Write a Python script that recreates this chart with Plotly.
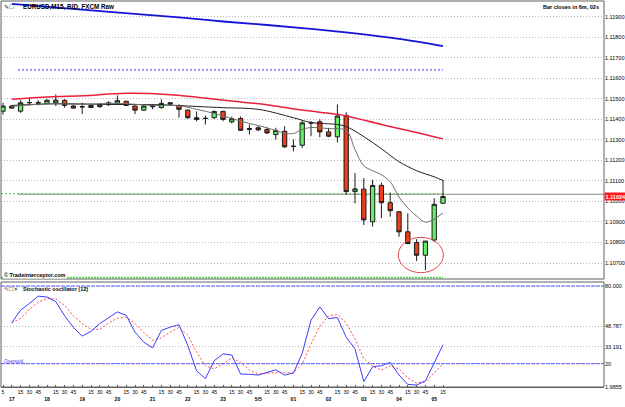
import plotly.graph_objects as go

# ---------------- data ----------------
bars = list(range(51))  # 15-minute bars, 16:45 .. 05:15
opens = [1.11440, 1.11465, 1.11440, 1.11481, 1.11482, 1.11478, 1.11481, 1.11493, 1.11465, 1.11462,
         1.11458, 1.11462, 1.11472, 1.11478, 1.11488, 1.11465, 1.11445, 1.11468, 1.11458, 1.11481,
         1.11468, 1.11445, 1.11408, 1.11404, 1.11408, 1.11439, 1.11388, 1.11404, 1.11351, 1.11359,
         1.11351, 1.11326, 1.11342, 1.11268, 1.11274, 1.11383, 1.11388, 1.11339, 1.11315, 1.11419,
         1.11048, 1.11060, 1.10901, 1.11078, 1.10994, 1.10950, 1.10852, 1.10800, 1.10738, 1.10812,
         1.10991]
highs = [1.11481, 1.11468, 1.11494, 1.11501, 1.11494, 1.11498, 1.11522, 1.11498, 1.11472, 1.11481,
         1.11472, 1.11478, 1.11488, 1.11517, 1.11491, 1.11468, 1.11472, 1.11472, 1.11498, 1.11484,
         1.11473, 1.11449, 1.11439, 1.11419, 1.11442, 1.11442, 1.11414, 1.11414, 1.11375, 1.11367,
         1.11359, 1.11359, 1.11367, 1.11302, 1.11395, 1.11391, 1.11400, 1.11359, 1.11473, 1.11435,
         1.11138, 1.11114, 1.11106, 1.11092, 1.11043, 1.10952, 1.10942, 1.10816, 1.10807, 1.11016,
         1.11106]
lows = [1.11424, 1.11452, 1.11432, 1.11468, 1.11468, 1.11473, 1.11465, 1.11457, 1.11452, 1.11426,
        1.11455, 1.11457, 1.11465, 1.11473, 1.11465, 1.11426, 1.11442, 1.11449, 1.11452, 1.11472,
        1.11408, 1.11403, 1.11391, 1.11375, 1.11403, 1.11391, 1.11380, 1.11344, 1.11326, 1.11342,
        1.11329, 1.11302, 1.11261, 1.11244, 1.11261, 1.11318, 1.11313, 1.11313, 1.11288, 1.11032,
        1.10991, 1.10885, 1.10877, 1.10918, 1.10926, 1.10828, 1.10792, 1.10710, 1.10665, 1.10803,
        1.10991]
closes = [1.11465, 1.11455, 1.11481, 1.11482, 1.11480, 1.11493, 1.11494, 1.11468, 1.11455, 1.11461,
          1.11468, 1.11473, 1.11481, 1.11491, 1.11468, 1.11445, 1.11465, 1.11462, 1.11478, 1.11475,
          1.11449, 1.11408, 1.11400, 1.11405, 1.11439, 1.11400, 1.11403, 1.11347, 1.11355, 1.11349,
          1.11334, 1.11346, 1.11266, 1.11269, 1.11383, 1.11383, 1.11339, 1.11318, 1.11416, 1.11048,
          1.11061, 1.10910, 1.11078, 1.10994, 1.10955, 1.10852, 1.10795, 1.10738, 1.10807, 1.10986,
          1.11024]

# moving averages (read at sample bars)
blue_ma_x = [1, 10, 20, 25, 30, 35, 40, 45, 50]
blue_ma_y = [1.11963, 1.11931, 1.11897, 1.11877, 1.11860, 1.11841, 1.11819, 1.11792, 1.11757]
red_ma_x = [1, 4, 9, 14, 19, 26, 30, 33, 36, 39, 43, 47, 50]
red_ma_y = [1.11498, 1.11507, 1.11515, 1.11527, 1.11520, 1.11489, 1.11471, 1.11451, 1.11435,
            1.11417, 1.11375, 1.11336, 1.11305]
black_ma_x = [1, 6, 12, 18, 22, 25, 29, 33, 35, 38, 39, 41, 43, 45, 47, 49, 50]
black_ma_y = [1.11468, 1.11476, 1.11473, 1.11471, 1.11463, 1.11457, 1.11449, 1.11408, 1.11385,
              1.11375, 1.11365, 1.11316, 1.11257, 1.11194, 1.11150, 1.11120, 1.11102]
gray_ma_x = [1, 5, 9, 13, 17, 20, 22, 24, 26, 28, 30, 32, 33, 34, 35, 37, 39, 40, 41, 42, 43, 44,
             45, 46, 47, 48, 49, 50]
gray_ma_y = [1.11463, 1.11476, 1.11473, 1.11478, 1.11468, 1.11466, 1.11449, 1.11429, 1.11404,
             1.11380, 1.11359, 1.11333, 1.11331, 1.11351, 1.11360, 1.11355, 1.11346, 1.11253,
             1.11174, 1.11150, 1.11130, 1.11096, 1.11022, 1.10968, 1.10929, 1.10899, 1.10914,
             1.10944]

# horizontal levels
blue_level = 1.11641
bid_line = 1.11035
green_level_hi = 1.11038
green_level_lo = 1.10630
last_price = 1.11024

# stochastic oscillator (bars 1..50)
stoch_x = list(range(1, 51))
stoch_k = [51.7, 61.3, 66.5, 72.2, 71.5, 68, 57, 48, 41.3, 45, 51, 55.5, 60, 57.4, 44.4, 36.6,
           32.2, 45.7, 48.3, 50.1, 34, 14.5, 8.5, 22.3, 27.5, 26.7, 12, 11.8, 11.2, 13.2, 15.3,
           11.2, 12.7, 28, 53.5, 63.9, 54.8, 55.6, 40.5, 31.4, 6.2, 17.6, 18.4, 21, 11.2, 4,
           3.5, 6.7, 21, 34.6]
stoch_d = [51.7, 55, 62, 67.5, 70.4, 69.9, 65, 57, 51, 46.5, 46.5, 51.5, 55, 56, 51, 44, 38, 40,
           44.4, 48, 42, 29, 18.4, 16, 19.8, 24.5, 21, 15, 12, 12.7, 13.2, 13, 13, 19.5, 35, 49,
           57, 57.9, 51.5, 39.2, 24, 18, 15, 18.4, 15.9, 9, 5, 6, 13, 19.8]
stoch_levels = [80, 20]
stoch_ticks = [1.9855, 20, 33.191, 48.787, 80]
stoch_tick_text = ["1.9855", "20", "33.191", "48.787", "80.000"]

price_ticks = [1.107, 1.108, 1.109, 1.110, 1.111, 1.112, 1.113, 1.114, 1.115, 1.116, 1.117,
               1.118, 1.119]
hour_labels = ["17", "18", "19", "20", "21", "22", "23", "5/5", "01", "02", "03", "04", "05"]
minute_labels = ["15", "30", "45"]

# circled area (bars / prices)
circle_x = [44.92, 50.04]
circle_y = [1.10653, 1.10825]

# ---------------- layout helpers ----------------
W, H = 625, 407
L, R, T, B = 1, 21, 1, 20


def px_x(px):
    return (px - L) / (W - L - R)


def px_y(py):
    return (H - B - py) / (H - T - B)


FONT = "Liberation Sans"
GREEN = "#66ee66"
RED = "#f03c18"
GRID = "#b8b8b8"
GRID_DASH = "1px,2px"

tick_vals = []
tick_text = []
for i in bars:
    tick_vals.append(i)
    if i == 0:
        tick_text.append("5")
    else:
        k = (i - 1) % 4
        if k == 0:
            tick_text.append("<br><b>" + hour_labels[(i - 1) // 4] + "</b>")
        else:
            tick_text.append(minute_labels[k - 1])

fig = go.Figure()

fig.add_trace(go.Candlestick(
    x=bars, open=opens, high=highs, low=lows, close=closes,
    increasing=dict(fillcolor=GREEN, line=dict(color="#1a1a1a", width=1)),
    decreasing=dict(fillcolor=RED, line=dict(color="#1a1a1a", width=1)),
    whiskerwidth=0, xaxis="x", yaxis="y", showlegend=False, hoverinfo="skip"))

fig.add_trace(go.Scatter(x=blue_ma_x, y=blue_ma_y, mode="lines", line=dict(color="#1414d8", width=1.8, shape="spline"),
                         yaxis="y", showlegend=False, hoverinfo="skip"))
fig.add_trace(go.Scatter(x=red_ma_x, y=red_ma_y, mode="lines", line=dict(color="#e8203c", width=1.5, shape="spline"),
                         yaxis="y", showlegend=False, hoverinfo="skip"))
fig.add_trace(go.Scatter(x=black_ma_x, y=black_ma_y, mode="lines", line=dict(color="#202020", width=1, shape="spline"),
                         yaxis="y", showlegend=False, hoverinfo="skip"))
fig.add_trace(go.Scatter(x=gray_ma_x, y=gray_ma_y, mode="lines", line=dict(color="#707070", width=1, shape="spline"),
                         yaxis="y", showlegend=False, hoverinfo="skip"))

fig.add_trace(go.Scatter(x=stoch_x, y=stoch_d, mode="lines", line=dict(color="#ff4c4c", width=1, dash="2px,2px"),
                         yaxis="y2", showlegend=False, hoverinfo="skip"))
fig.add_trace(go.Scatter(x=stoch_x, y=stoch_k, mode="lines", line=dict(color="#3c3cff", width=1),
                         yaxis="y2", showlegend=False, hoverinfo="skip"))

x_range = [-0.2273, 68.295]

shapes = [
    # panel frames
    dict(type="rect", xref="paper", yref="y domain", x0=0, x1=1, y0=0, y1=1,
         line=dict(color="#606060", width=1)),
    dict(type="rect", xref="paper", yref="y2 domain", x0=0, x1=1, y0=0, y1=1,
         line=dict(color="#606060", width=1)),
    # level lines
    dict(type="line", xref="x", yref="y", x0=1.7, x1=50, y0=blue_level, y1=blue_level,
         line=dict(color="#3030ff", width=1, dash="2px,2px"), layer="below"),
    dict(type="line", xref="x", yref="y", x0=1.7, x1=x_range[1], y0=bid_line, y1=bid_line,
         line=dict(color="#8a8a8a", width=1), layer="below"),
    dict(type="line", xref="x", yref="y", x0=x_range[0], x1=50, y0=green_level_hi, y1=green_level_hi,
         line=dict(color="#44cc44", width=1, dash="2px,2px"), layer="below"),
    dict(type="line", xref="x", yref="y", x0=x_range[0], x1=50, y0=green_level_lo, y1=green_level_lo,
         line=dict(color="#44dd44", width=1.5, dash="2px,1px"), layer="below"),
    # circle
    dict(type="circle", xref="x", yref="y", x0=circle_x[0], x1=circle_x[1], y0=circle_y[0], y1=circle_y[1],
         line=dict(color="#e04848", width=1)),
]
for lv in stoch_levels:
    shapes.append(dict(type="line", xref="paper", yref="y2", x0=0, x1=1, y0=lv, y1=lv,
                       line=dict(color="#5a5aff", width=1, dash="4px,1px")))

annotations = [
    dict(text="✎☐", x=px_x(2), y=px_y(6), xref="paper", yref="paper", xanchor="left", yanchor="middle",
         showarrow=False, font=dict(size=6, color="#333", family="DejaVu Sans")),
    dict(text="<b>EURUSD,M15, BID, FXCM Raw</b>", x=px_x(21), y=px_y(6.5), xref="paper", yref="paper",
         xanchor="left", yanchor="middle", showarrow=False, font=dict(size=6.3, color="#000")),
    dict(text="<b>Bar closes in 6m, 02s</b>", x=px_x(601), y=px_y(6.5), xref="paper", yref="paper",
         xanchor="right", yanchor="middle", showarrow=False, font=dict(size=5.5, color="#000")),
    dict(text="<b>© Tradeinterceptor.com</b>", x=px_x(3), y=px_y(275), xref="paper", yref="paper",
         xanchor="left", yanchor="middle", showarrow=False, bgcolor="#ffffff", borderpad=0,
         font=dict(size=5.5, color="#000")),
    dict(text="✎☐✕", x=px_x(2), y=px_y(288.5), xref="paper", yref="paper", xanchor="left", yanchor="middle",
         showarrow=False, font=dict(size=5.5, color="#333", family="DejaVu Sans")),
    dict(text="<b>Stochastic oscillator (12)</b>", x=px_x(21), y=px_y(288.5), xref="paper", yref="paper",
         xanchor="left", yanchor="middle", showarrow=False, font=dict(size=5.5, color="#000")),
    dict(text="Oversold", x=px_x(2), y=px_y(361), xref="paper", yref="paper", xanchor="left",
         yanchor="middle", showarrow=False, font=dict(size=4.8, color="#3c3cff")),
    dict(text="<b>" + f"{last_price:.5f}" + "</b>", x=1, y=last_price, xref="paper", yref="y",
         xanchor="left", yanchor="middle", showarrow=False, bgcolor="#ff1a1a", borderpad=0.5,
         font=dict(size=5.5, color="#ffffff")),
]

fig.update_layout(
    width=W, height=H, autosize=False,
    margin=dict(l=L, r=R, t=T, b=B, pad=0),
    paper_bgcolor="#ffffff", plot_bgcolor="#ffffff",
    font=dict(family=FONT, size=5.5, color="#000"),
    showlegend=False,
    xaxis=dict(range=x_range, anchor="y2", domain=[0, 1], showgrid=False, zeroline=False,
               tickmode="array", tickvals=tick_vals, ticktext=tick_text, ticks="inside", ticklen=2,
               tickcolor="#555", tickfont=dict(size=5, family=FONT), tickangle=0,
               showline=True, linecolor="#606060", rangeslider=dict(visible=False), fixedrange=True),
    yaxis=dict(domain=[px_y(279), 1], range=[1.106221, 1.119769], side="right", anchor="x",
               tickmode="array", tickvals=price_ticks, ticktext=[f"{v:.5f}" for v in price_ticks],
               showgrid=True, gridcolor=GRID, griddash=GRID_DASH, gridwidth=1, zeroline=False,
               ticks="", tickfont=dict(size=5.5, family=FONT), showline=False),
    yaxis2=dict(domain=[0, px_y(282)], range=[1.9855, 83.1], side="right", anchor="x",
                tickmode="array", tickvals=stoch_ticks, ticktext=stoch_tick_text,
                showgrid=True, gridcolor=GRID, griddash=GRID_DASH, gridwidth=1, zeroline=False,
                ticks="", tickfont=dict(size=5.5, family=FONT), showline=False),
    shapes=shapes,
    annotations=annotations,
)

fig.write_html("out.html")
